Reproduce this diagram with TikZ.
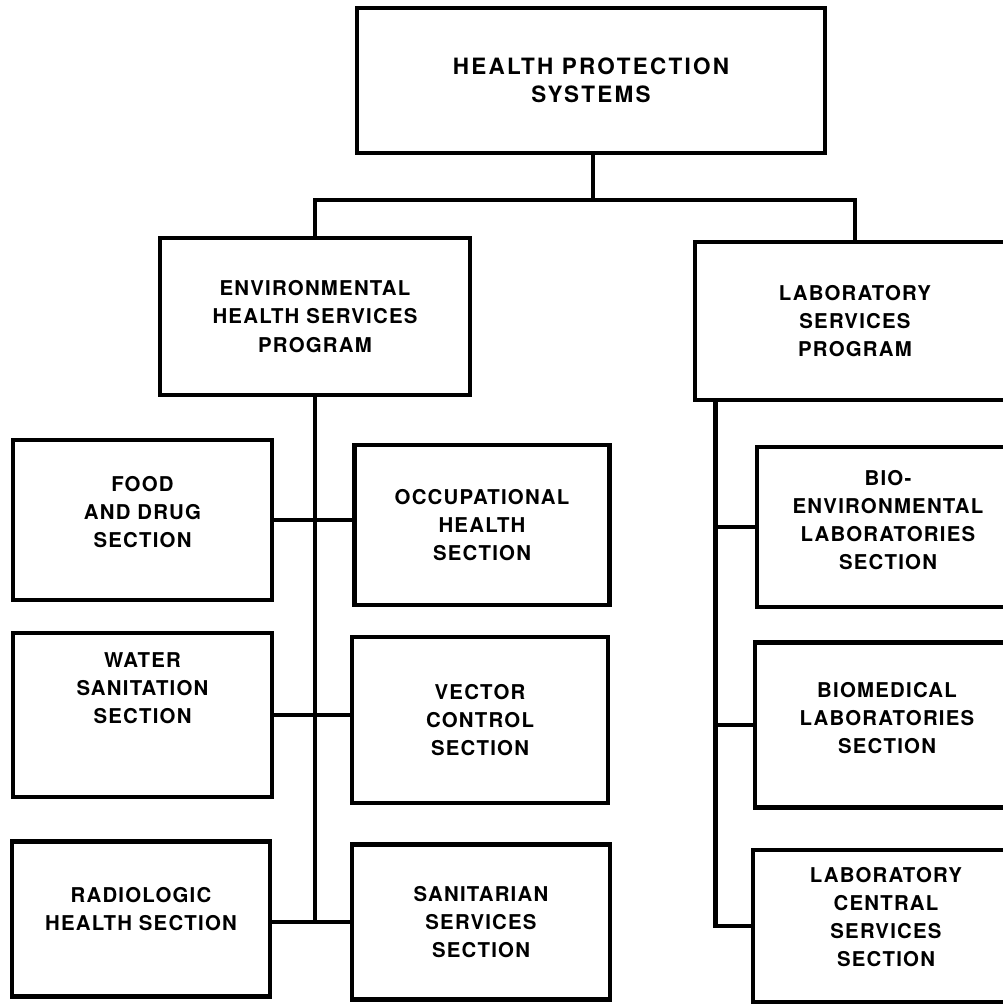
\documentclass[tikz,border=0pt]{standalone}
\usepackage{fontspec}
\newfontfamily\boxfont[LetterSpace=6]{TeX Gyre Heros}
\newfontfamily\topfont[LetterSpace=10]{TeX Gyre Heros}
\begin{document}
\begin{tikzpicture}[x=0.025cm,y=-0.025cm,
  box/.style={draw, line width=3pt, align=center, inner sep=0pt,
    font=\boxfont\bfseries\fontsize{14.5}{20}\selectfont},
  conn/.style={line width=3.5pt},
  sz/.style 2 args={minimum width=#1*0.025cm, minimum height=#2*0.025cm}]
\useasboundingbox (0,0) rectangle (1003,1008);
\clip (0,0) rectangle (1003,1008);

\node[box, sz={468}{145}, font=\topfont\bfseries\fontsize{16}{20}\selectfont] (top) at (591,80.5) {HEALTH PROTECTION\\SYSTEMS};
\node[box, sz={310}{157}] (env) at (315,316.5) {ENVIRONMENTAL\\HEALTH SERVICES\\PROGRAM};
\node[box, sz={320}{158}] (lab) at (855,321) {LABORATORY\\SERVICES\\PROGRAM};

\node[box, sz={259}{160}, text depth=0.4cm] (food) at (142.5,520) {FOOD\\AND DRUG\\SECTION};
\node[box, sz={255}{160}] (occ) at (482,525) {OCCUPATIONAL\\HEALTH\\SECTION};
\node[box, sz={259}{164}, text depth=1.35cm] (water) at (142.5,715) {WATER\\SANITATION\\SECTION};
\node[box, sz={256}{166}] (vec) at (480,720) {VECTOR\\CONTROL\\SECTION};
\node[box, sz={258}{155}, text depth=0.5cm] (rad) at (141,919) {RADIOLOGIC\\HEALTH SECTION};
\node[box, sz={258}{155}] (san) at (481,922) {SANITARIAN\\SERVICES\\SECTION};

\node[box, sz={262}{160}, text depth=0.35cm] (bio) at (888,527) {BIO-\\ENVIRONMENTAL\\LABORATORIES\\SECTION};
\node[box, sz={264}{165}, text depth=0.35cm] (bmed) at (887,725) {BIOMEDICAL\\LABORATORIES\\SECTION};
\node[box, sz={266}{152}, text depth=0.45cm] (lcs) at (886,926) {LABORATORY\\CENTRAL\\SERVICES\\SECTION};

\coordinate (junc) at (593,200);
\draw[conn] (top.south -| junc) -- (junc);
\draw[conn] (env.north) |- (junc) -| (lab.north);

\coordinate (envend) at (env.south |- san.west);
\draw[conn] (env.south) -- (envend);
\draw[conn] (food.east) -- (food.east -| occ.west);
\draw[conn] (water.east) -- (water.east -| vec.west);
\draw[conn] (rad.east |- san.west) -- (san.west);

\coordinate (labtrunk) at ([xshift=0.575cm]lab.south west);
\draw[conn] (labtrunk) |- (lcs.west);
\draw[conn] (bio.west) -- (bio.west -| labtrunk);
\draw[conn] (bmed.west) -- (bmed.west -| labtrunk);
\end{tikzpicture}
\end{document}
